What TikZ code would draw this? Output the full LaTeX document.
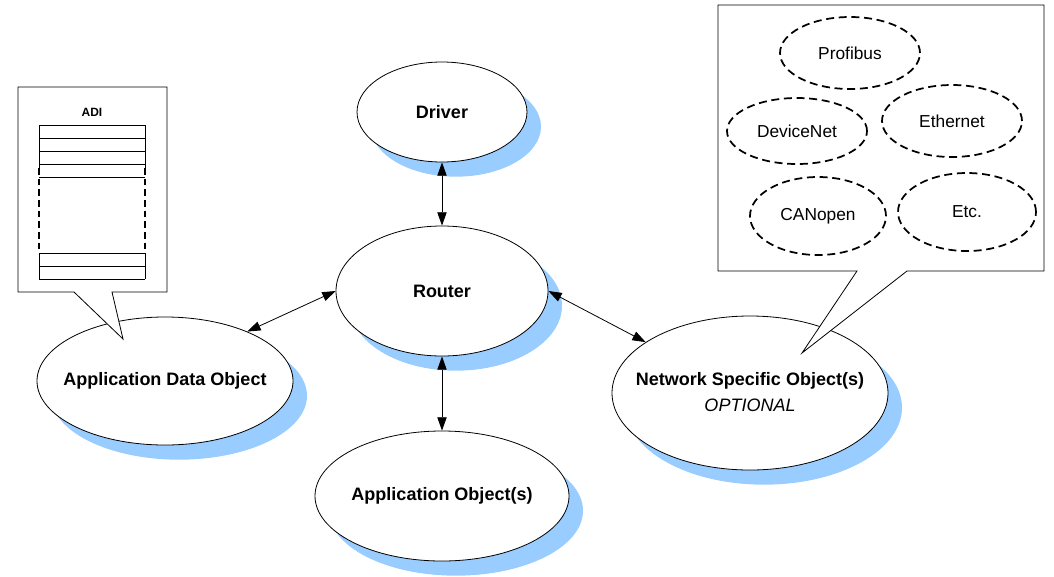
\documentclass[tikz,border=0pt]{standalone}
\usepackage{fontspec}
\setmainfont{Liberation Sans}
\usetikzlibrary{shapes.geometric,shadows,arrows.meta}
\definecolor{shadowblue}{HTML}{99CCFF}
\newcommand{\nowidth}[1]{\makebox[0pt]{#1}}
\tikzset{
  % object ellipse: #1 = half width, #2 = half height (in px units)
  obj/.style 2 args={ellipse, draw=black, line width=0.6pt, fill=white, inner sep=0pt,
    minimum width=#1*1.5pt, minimum height=#2*1.5pt,
    drop shadow={shadow xshift=10.5pt, shadow yshift=-11pt, fill=shadowblue, opacity=1},
    font=\fontsize{13.5}{19.5}\selectfont\bfseries},
  net/.style 2 args={ellipse, draw=black, line width=1.3pt, dash pattern=on 6pt off 3.5pt,
    fill=white, inner sep=0pt, minimum width=#1*1.5pt, minimum height=#2*1.5pt,
    font=\fontsize{13}{15}\selectfont},
  link/.style={line width=0.6pt, {Triangle[length=10pt,width=7pt]}-{Triangle[length=10pt,width=7pt]}},
  bubble/.style={draw=black, line width=0.6pt, fill=white, line join=miter},
  rowline/.style={line width=0.6pt},
  gapline/.style={line width=1.3pt, dash pattern=on 5pt off 3pt},
}
\begin{document}
\begin{tikzpicture}[x=0.75pt, y=-0.75pt]
\useasboundingbox (0,0) rectangle (1054,576);

% main objects (labels kept zero-width so the ellipse size is fixed)
\node[obj={85}{50}]   (driver) at (442,112) {\nowidth{Driver}};
\node[obj={106}{65}]  (router) at (442,291) {\nowidth{Router}};
\node[obj={127}{65}]  (appobj) at (442,496) {\nowidth{Application Object(s)}};
\node[obj={128}{64}]  (ado)    at (165,381) {\nowidth{Application Data Object}};
\node[obj={138}{77}]  (nso)    at (750,393)
  {\nowidth{\begin{tabular}{@{}c@{}}Network Specific Object(s)\\
   \mdseries\itshape OPTIONAL\end{tabular}}};

% connections through the router
\draw[link] (driver.south) -- (router.north);
\draw[link] (router.south) -- (appobj.north);
\draw[link] (router.west)  -- (ado.31);
\draw[link] (router.east)  -- (nso.154);

% ADI callout
\draw[bubble] (18,87) -- (167,87) -- (167,292) -- (112,292) -- (123,339)
  -- (74,292) -- (18,292) -- cycle;
\node[font=\fontsize{9}{10}\selectfont\bfseries] (adi) at (92,112) {ADI};
\foreach \yy in {125,138,151,164,177,253,266,279}
  \draw[rowline] (39,\yy) -- (145,\yy);
\draw[rowline] (39,125) -- (39,168) (145,125) -- (145,168);
\draw[gapline] (39,168) -- (39,253) (145,168) -- (145,253);
\draw[rowline] (39,253) -- (39,279) (145,253) -- (145,279);

% network callout
\draw[bubble] (718,5) -- (1044,5) -- (1044,271) -- (907,271) -- (802,353)
  -- (857,271) -- (718,271) -- cycle;
\node[net={70}{36}] (profibus)  at (850,53)  {\nowidth{Profibus}};
\node[net={70}{33}] (devicenet) at (797,131) {\nowidth{DeviceNet}};
\node[net={70}{36}] (ethernet)  at (952,121) {\nowidth{Ethernet}};
\node[net={68}{39}] (canopen)   at (818,216) {\nowidth{CANopen}};
\node[net={69}{39}] (etc)       at (967,212) {\nowidth{Etc.}};
\end{tikzpicture}
\end{document}
